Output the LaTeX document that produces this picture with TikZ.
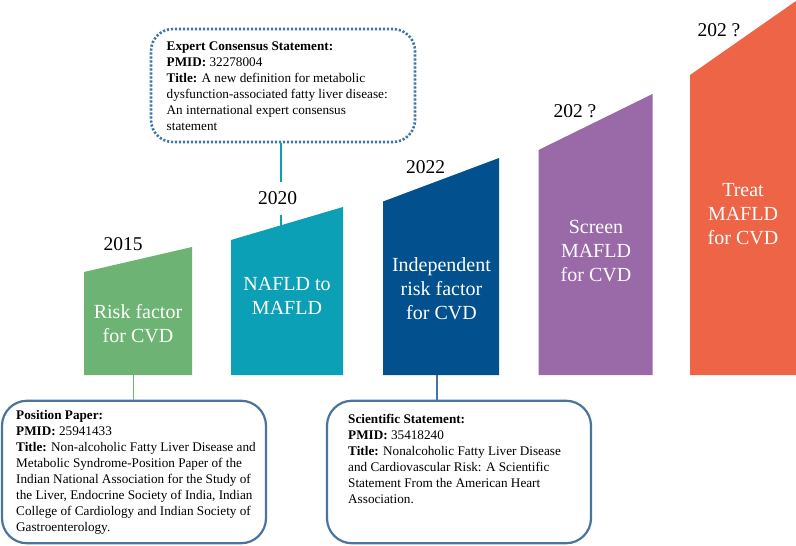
\documentclass[tikz,border=0pt]{standalone}
\usepackage{fontspec}
\setmainfont{Liberation Serif}
\definecolor{cgreen}{HTML}{6DB474}
\definecolor{cteal}{HTML}{0BA0B5}
\definecolor{cnavy}{HTML}{03508F}
\definecolor{cpurple}{HTML}{9A69A8}
\definecolor{corange}{HTML}{EE6446}
\definecolor{cbox}{HTML}{48749F}
\definecolor{cdot}{HTML}{3F76A6}
\tikzset{
  bartext/.style={text=white,font=\fontsize{20}{24}\selectfont,align=center,inner sep=0pt},
  yeartext/.style={text=black,font=\fontsize{19.5}{22}\selectfont,inner sep=1pt,fill=white,minimum height=33pt},
  yearplain/.style={text=black,font=\fontsize{19.5}{22}\selectfont,inner sep=0pt},
  paper/.style={draw=cbox,line width=2.2pt,rounded corners=25pt,fill=white,inner sep=0pt},
  dotbox/.style={draw=cdot,line width=2.6pt,dash pattern=on 2.2pt off 1.8pt,rounded corners=22pt,fill=white,inner sep=0pt},
  papertext/.style={text=black,font=\fontsize{13.2}{16}\selectfont,align=left,anchor=north west,inner sep=0pt},
  link/.style={line width=1.4pt}
}
\begin{document}
\begin{tikzpicture}[x=1pt,y=-1pt]
\useasboundingbox (0,0) rectangle (796,546);
% connector anchors
\coordinate (greenbase) at (133.5,375);
\coordinate (tealtop) at (281,226);
\coordinate (navybase) at (437,375);
% boxes
\node[paper,minimum width=264pt,minimum height=142.5pt] (pos) at (134,472) {};
\node[paper,minimum width=264pt,minimum height=142.5pt] (sci) at (459,472) {};
\node[dotbox,minimum width=264pt,minimum height=113pt] (exp) at (283,85.5) {};
% connectors
\draw[link,draw=cgreen] (greenbase) -- (greenbase |- pos.north);
\draw[link,draw=cbox] (navybase) -- (navybase |- sci.north);
\draw[link,draw=cteal] (exp.south -| tealtop) -- (tealtop);
% bars
\fill[cgreen] (84,272) -- (192,247) -- (192,375) -- (84,375) -- cycle;
\fill[cteal] (231,240) -- (343,207) -- (343,375) -- (231,375) -- cycle;
\fill[cnavy] (383,201.5) -- (499,158) -- (499,375) -- (383,375) -- cycle;
\fill[cpurple] (538.5,150) -- (652.5,94) -- (652.5,375) -- (538.5,375) -- cycle;
\fill[corange] (690,75) -- (796,1) -- (796,375) -- (690,375) -- cycle;
% bar labels
\node[bartext] (t1) at (138,324) {Risk factor\\for CVD};
\node[bartext] (t2) at (287,296) {NAFLD to\\MAFLD};
\node[bartext] (t3) at (441.5,289) {Independent\\risk factor\\for CVD};
\node[bartext] (t4) at (596,251) {Screen\\MAFLD\\for CVD};
\node[bartext] (t5) at (743,214) {Treat\\MAFLD\\for CVD};
% years
\node[yearplain] (y1) at (123,244.5) {2015};
\node[yeartext] (y2) at (277.5,198.5) {2020};
\node[yearplain] (y3) at (425.5,167) {2022};
\node[yearplain] (y4) at (575,111) {202 ?};
\node[yearplain] (y5) at (719,30) {202 ?};
% texts
\node[papertext] (ptx) at (16,410.5) {\textbf{Position Paper:}\\\textbf{PMID:} 25941433\\\textbf{Title:} Non-alcoholic Fatty Liver Disease and\\Metabolic Syndrome-Position Paper of the\\Indian National Association for the Study of\\the Liver, Endocrine Society of India, Indian\\College of Cardiology and Indian Society of\\Gastroenterology.};
\node[papertext] (stx) at (348,414.5) {\textbf{Scientific Statement:}\\\textbf{PMID:} 35418240\\\textbf{Title:} Nonalcoholic Fatty Liver Disease\\and Cardiovascular Risk: A Scientific\\Statement From the American Heart\\Association.};
\node[papertext] (etx) at (166.5,41.5) {\textbf{Expert Consensus Statement:}\\\textbf{PMID:} 32278004\\\textbf{Title:} A new definition for metabolic\\dysfunction-associated fatty liver disease:\\An international expert consensus\\statement};
\end{tikzpicture}
\end{document}
